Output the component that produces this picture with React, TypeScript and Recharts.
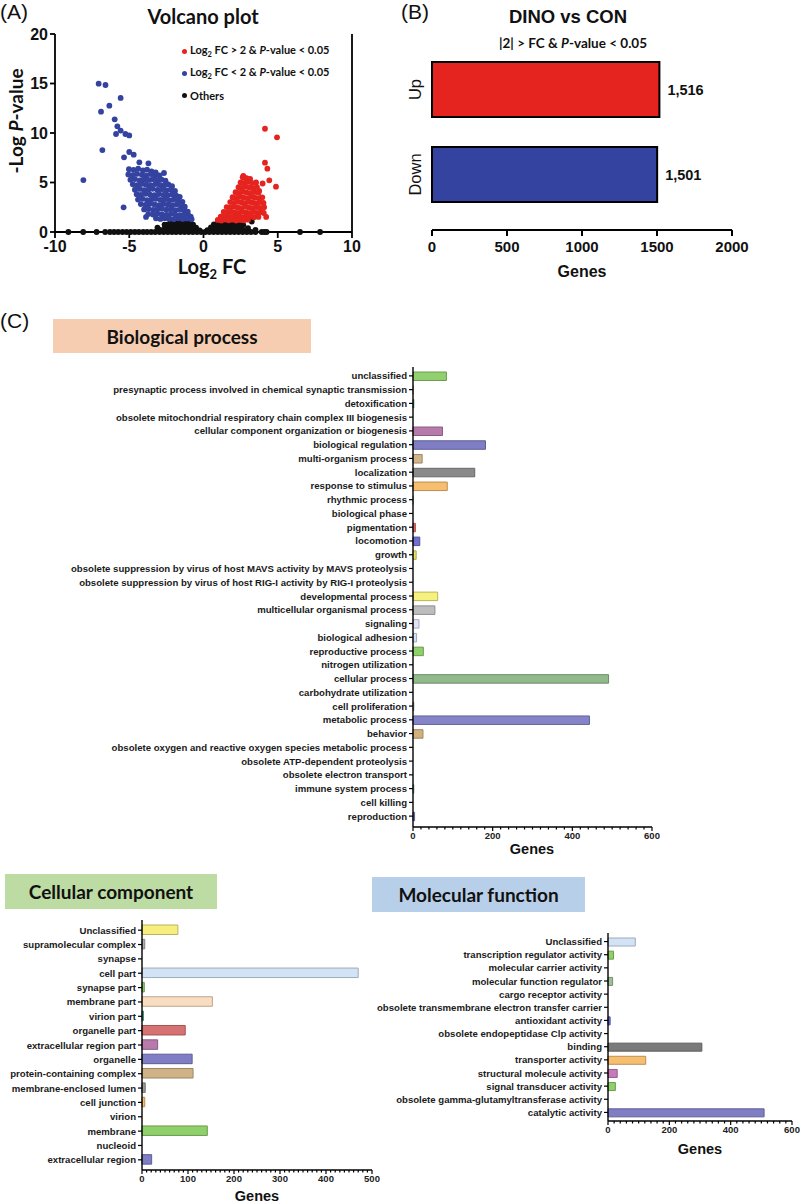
import React from 'react'
import {
  ScatterChart, Scatter, XAxis, YAxis, ReferenceLine, Legend,
  BarChart, Bar, Cell, LabelList,
} from 'recharts'

const SANS = '"Liberation Sans", Arial, sans-serif'
const CAL = 'Lato, "Open Sans", sans-serif'

// ---- (A) volcano plot, [log2 FC, -log P] ----
const VOLCANO_UP = [
  [4.14, 10.43], [4.95, 9.56], [4.14, 7.0], [4.3, 6.4], [4.43, 5.22], [4.88, 4.58], [4.22, 1.52],
  [3.98, 4.9], [3.75, 4.14], [2.68, 5.66], [3.8, 3.4],
  [2.64, 5.52], [2.9, 5.44], [3.14, 5.36],
  [2.5, 5.02], [2.75, 4.96], [3.0, 5.06], [3.28, 4.94], [3.54, 5.0],
  [2.36, 4.52], [2.6, 4.45], [2.86, 4.56], [3.1, 4.48], [3.36, 4.42], [3.6, 4.54],
  [2.16, 4.02], [2.4, 3.95], [2.66, 4.06], [2.9, 3.98], [3.16, 3.92], [3.42, 4.04], [3.7, 3.96],
  [1.96, 3.52], [2.2, 3.45], [2.46, 3.56], [2.7, 3.48], [2.96, 3.42], [3.2, 3.54], [3.46, 3.46], [3.74, 3.4], [3.96, 3.5],
  [1.8, 3.02], [2.05, 2.95], [2.3, 3.06], [2.56, 2.98], [2.8, 2.92], [3.06, 3.04], [3.3, 2.96], [3.56, 2.9], [3.8, 3.02], [4.04, 2.94],
  [1.56, 2.52], [1.8, 2.45], [2.06, 2.56], [2.3, 2.48], [2.56, 2.42], [2.8, 2.54], [3.06, 2.46], [3.3, 2.4], [3.56, 2.52], [3.8, 2.44], [4.08, 2.5],
  [1.36, 2.02], [1.6, 1.95], [1.86, 2.06], [2.1, 1.98], [2.36, 1.92], [2.6, 2.04], [2.86, 1.96], [3.1, 1.9], [3.36, 2.02], [3.6, 1.94], [3.86, 2.0], [4.06, 1.92],
  [1.16, 1.56], [1.4, 1.5], [1.66, 1.6], [1.9, 1.52], [2.16, 1.46], [2.4, 1.58], [2.66, 1.5], [2.9, 1.44], [3.16, 1.56], [3.4, 1.48], [3.7, 1.52],
  [0.96, 1.22], [1.2, 1.16], [1.46, 1.26], [1.7, 1.18], [1.96, 1.24], [2.2, 1.16], [2.46, 1.22], [2.72, 1.18], [3.0, 1.24],
]

const VOLCANO_DOWN = [
  [-7.06, 14.98], [-6.6, 14.85], [-6.34, 12.76], [-6.9, 12.15], [-5.58, 13.54], [-5.98, 11.38], [-5.8, 10.67],
  [-5.58, 10.24], [-5.89, 9.9], [-5.26, 9.9], [-5.0, 9.76], [-6.81, 8.28], [-8.09, 5.25], [-5.0, 8.08],
  [-4.7, 7.81], [-5.35, 7.54], [-5.38, 2.49], [-4.32, 7.04], [-3.71, 6.94], [-2.66, 5.96], [-3.87, 1.52],
  [-5.02, 6.35], [-4.71, 6.28], [-4.4, 6.4], [-4.08, 6.22], [-3.8, 6.3], [-3.5, 6.12], [-3.22, 6.02],
  [-5.06, 5.82], [-4.76, 5.75], [-4.47, 5.88], [-4.15, 5.78], [-3.86, 5.7], [-3.55, 5.85], [-3.26, 5.66], [-2.96, 5.72],
  [-4.92, 5.28], [-4.61, 5.35], [-4.3, 5.22], [-4.02, 5.31], [-3.7, 5.26], [-3.41, 5.34], [-3.1, 5.2], [-2.82, 5.3], [-2.56, 5.18],
  [-4.76, 4.82], [-4.47, 4.74], [-4.15, 4.86], [-3.86, 4.78], [-3.55, 4.72], [-3.24, 4.84], [-2.95, 4.76], [-2.66, 4.7], [-2.37, 4.8], [-2.12, 4.62],
  [-4.62, 4.28], [-4.3, 4.35], [-4.01, 4.22], [-3.7, 4.3], [-3.42, 4.36], [-3.1, 4.25], [-2.8, 4.32], [-2.5, 4.2], [-2.21, 4.28], [-1.92, 4.15],
  [-4.5, 3.82], [-4.22, 3.75], [-3.9, 3.86], [-3.6, 3.78], [-3.31, 3.72], [-3.01, 3.84], [-2.7, 3.76], [-2.42, 3.7], [-2.12, 3.8], [-1.83, 3.68], [-1.6, 3.55],
  [-4.41, 3.28], [-4.1, 3.35], [-3.8, 3.22], [-3.5, 3.3], [-3.2, 3.36], [-2.9, 3.25], [-2.61, 3.32], [-2.3, 3.2], [-2.02, 3.28], [-1.71, 3.18], [-1.42, 3.05],
  [-4.22, 2.82], [-3.91, 2.75], [-3.6, 2.86], [-3.3, 2.78], [-3.0, 2.72], [-2.71, 2.84], [-2.4, 2.76], [-2.1, 2.7], [-1.8, 2.8], [-1.5, 2.68], [-1.26, 2.55],
  [-4.0, 2.28], [-3.71, 2.35], [-3.4, 2.22], [-3.1, 2.3], [-2.8, 2.36], [-2.5, 2.25], [-2.2, 2.32], [-1.9, 2.2], [-1.6, 2.28], [-1.31, 2.18], [-1.06, 2.05],
  [-3.72, 1.82], [-3.4, 1.76], [-3.1, 1.86], [-2.8, 1.78], [-2.5, 1.72], [-2.2, 1.84], [-1.9, 1.76], [-1.6, 1.7], [-1.3, 1.8], [-1.02, 1.68], [-0.86, 1.55],
  [-3.2, 1.38], [-2.9, 1.32], [-2.6, 1.4], [-2.3, 1.34], [-2.0, 1.3], [-1.7, 1.38], [-1.4, 1.32], [-1.1, 1.36], [-0.8, 1.3],
]

const VOLCANO_OTHER = [
  [-9.1, 0], [-8.1, 0], [-7.2, 0], [-6.62, 0], [-6.3, 0], [-6.02, 0], [-5.74, 0], [-5.45, 0], [-5.18, 0], [-4.9, 0],
  [-4.62, 0], [-4.35, 0], [-4.06, 0], [-3.8, 0], [-3.52, 0], [-3.25, 0], [-2.96, 0], [-2.68, 0], [-2.4, 0], [-2.12, 0],
  [-1.85, 0], [-1.56, 0], [-1.28, 0], [-1.0, 0], [-0.72, 0], [-0.44, 0], [-0.16, 0], [0.12, 0], [0.4, 0], [0.68, 0],
  [0.96, 0], [1.24, 0], [1.52, 0], [1.8, 0], [2.08, 0], [2.36, 0], [2.64, 0], [2.92, 0], [3.2, 0], [3.5, 0],
  [3.92, 0], [4.1, 0], [4.25, 0], [6.5, 0], [7.85, 0],
  [-2.92, 0.22], [-2.62, 0.18], [-2.32, 0.24], [-2.02, 0.2], [-1.72, 0.16], [-1.42, 0.22], [-1.12, 0.18], [-0.82, 0.24], [-0.52, 0.2], [-0.26, 0.16],
  [0.26, 0.18], [0.52, 0.22], [0.82, 0.16], [1.12, 0.24], [1.42, 0.2], [1.72, 0.18], [2.02, 0.22], [2.32, 0.16], [2.62, 0.24], [2.92, 0.2],
  [-2.6, 0.5], [-2.3, 0.46], [-2.0, 0.54], [-1.7, 0.48], [-1.4, 0.52], [-1.1, 0.46], [-0.8, 0.5], [-0.5, 0.44],
  [0.5, 0.46], [0.8, 0.52], [1.1, 0.48], [1.4, 0.54], [1.7, 0.46], [2.0, 0.5], [2.3, 0.52],
  [-2.4, 0.78], [-2.1, 0.82], [-1.8, 0.76], [-1.5, 0.8], [-1.2, 0.84], [-0.92, 0.78], [-0.7, 0.74],
  [0.7, 0.76], [0.92, 0.82], [1.2, 0.78], [1.5, 0.84], [1.8, 0.76], [2.1, 0.8], [2.4, 0.82],
  [-2.2, 1.04], [-1.9, 1.08], [-1.6, 1.02], [-1.3, 1.06], [-1.02, 1.0], [1.0, 1.04], [1.3, 1.08], [1.6, 1.02], [1.9, 1.06], [2.2, 1.0],
  [3.25, 1.05], [2.68, 0.7], [2.46, 0.54], [3.0, 0.4], [3.5, 0.22], [-2.62, 0.75], [-3.1, 0.45],
]

const VOLCANO_X_TICKS = [-10, -5, 0, 5, 10]
const VOLCANO_Y_TICKS = [0, 5, 10, 15, 20]

// ---- (B) DEG counts ----
const DEG_GROUPS = ['Up', 'Down']
const DEG_COUNTS = [1516, 1501]
const DEG_TICKS = [0, 500, 1000, 1500, 2000]

// ---- (C) GO categories ----
const BP_TERMS = [
  'unclassified',
  'presynaptic process involved in chemical synaptic transmission',
  'detoxification',
  'obsolete mitochondrial respiratory chain complex III biogenesis',
  'cellular component organization or biogenesis',
  'biological regulation',
  'multi-organism process',
  'localization',
  'response to stimulus',
  'rhythmic process',
  'biological phase',
  'pigmentation',
  'locomotion',
  'growth',
  'obsolete suppression by virus of host MAVS activity by MAVS proteolysis',
  'obsolete suppression by virus of host RIG-I activity by RIG-I proteolysis',
  'developmental process',
  'multicellular organismal process',
  'signaling',
  'biological adhesion',
  'reproductive process',
  'nitrogen utilization',
  'cellular process',
  'carbohydrate utilization',
  'cell proliferation',
  'metabolic process',
  'behavior',
  'obsolete oxygen and reactive oxygen species metabolic process',
  'obsolete ATP-dependent proteolysis',
  'obsolete electron transport',
  'immune system process',
  'cell killing',
  'reproduction',
]
const BP_GENES = [84, 1, 2, 0, 74, 182, 23, 155, 86, 1, 0, 6, 17, 8, 0, 0, 62, 55, 15, 9, 26, 0, 491, 0, 2, 443, 25, 0, 0, 0, 2, 0, 4]
const BP_COLORS = [
  '#92cf6e', '#f4e3b0', '#5fa89a', '#cccccc', '#b77aaa', '#7f7dc4', '#d2b48a', '#8a8a8a', '#f6be6e', '#e6dcef',
  '#cccccc', '#e06a6a', '#6f6fcf', '#e3e36a', '#cccccc', '#cccccc', '#f6f07c', '#bdbdbd', '#e4e2f6', '#d3e3f6',
  '#8fd06a', '#cccccc', '#92b98b', '#cccccc', '#b8b8b8', '#8584c8', '#d2b07e', '#cccccc', '#cccccc', '#cccccc',
  '#9bc49a', '#cccccc', '#7f7dc4',
]
const BP_TICKS = [0, 20, 40, 60, 80, 100, 120, 140, 160, 180, 200, 220, 240, 260, 280, 300, 320, 340, 360, 380, 400, 420, 440, 460, 480, 500, 520, 540, 560, 580, 600]
const BP_MAJOR = [0, 200, 400, 600]

const CC_TERMS = [
  'Unclassified', 'supramolecular complex', 'synapse', 'cell part', 'synapse part', 'membrane part', 'virion part',
  'organelle part', 'extracellular region part', 'organelle', 'protein-containing complex', 'membrane-enclosed lumen',
  'cell junction', 'virion', 'membrane', 'nucleoid', 'extracellular region',
]
const CC_GENES = [78, 6, 0, 470, 5, 153, 3, 94, 34, 109, 111, 7, 6, 0, 142, 0, 21]
const CC_COLORS = [
  '#f6ef7e', '#b0b0b0', '#cccccc', '#d3e3f6', '#8fd06a', '#f9ddc0', '#5fa89a', '#d77272', '#b77aaa',
  '#7f7dc4', '#cfb387', '#999999', '#f6be6e', '#cccccc', '#8fd06a', '#cccccc', '#7f7dc4',
]
const CC_TICKS = [0, 10, 20, 30, 40, 50, 60, 70, 80, 90, 100, 110, 120, 130, 140, 150, 160, 170, 180, 190, 200, 210, 220, 230, 240, 250, 260, 270, 280, 290, 300, 310, 320, 330, 340, 350, 360, 370, 380, 390, 400, 410, 420, 430, 440, 450, 460, 470, 480, 490, 500]
const CC_MAJOR = [0, 100, 200, 300, 400, 500]

const MF_TERMS = [
  'Unclassified', 'transcription regulator activity', 'molecular carrier activity', 'molecular function regulator',
  'cargo receptor activity', 'obsolete transmembrane electron transfer carrier', 'antioxidant activity',
  'obsolete endopeptidase Clp activity', 'binding', 'transporter activity', 'structural molecule activity',
  'signal transducer activity', 'obsolete gamma-glutamyltransferase activity', 'catalytic activity',
]
const MF_GENES = [89, 18, 0, 15, 0, 0, 7, 0, 306, 123, 30, 24, 0, 509]
const MF_COLORS = [
  '#d3e3f6', '#8fd06a', '#cccccc', '#9fbf98', '#cccccc', '#cccccc', '#6f6fcf',
  '#cccccc', '#7a7a7a', '#f6be6e', '#c77ab8', '#8fd06a', '#cccccc', '#7f7dc4',
]
const MF_TICKS = BP_TICKS
const MF_MAJOR = BP_MAJOR

const RED = '#e5231f'
const BLUE = '#3442a0'
const BLACK = '#111111'

function shade(hex: string, k = 0.75) {
  const n = parseInt(hex.slice(1), 16)
  const r = Math.round(((n >> 16) & 255) * k)
  const g = Math.round(((n >> 8) & 255) * k)
  const b = Math.round((n & 255) * k)
  return `rgb(${r},${g},${b})`
}

const toPts = (arr: number[][]) => arr.map(([x, y]) => ({ x, y }))

function Txt({ x, y, size, children, weight = 'bold', font = SANS, left = false }: any) {
  return (
    <div
      style={{
        position: 'absolute', left: x, top: y,
        transform: left ? 'translate(0,-50%)' : 'translate(-50%,-50%)',
        fontSize: size, fontWeight: weight, fontFamily: font,
        whiteSpace: 'nowrap', lineHeight: 1, color: '#111',
      }}
    >
      {children}
    </div>
  )
}

function TitleBox({ x, y, w, h, bg, children }: any) {
  return (
    <div
      style={{
        position: 'absolute', left: x, top: y, width: w, height: h, background: bg,
        display: 'flex', alignItems: 'center', justifyContent: 'center',
        fontFamily: CAL, fontWeight: 'bold', fontSize: 19, color: '#111',
      }}
    >
      {children}
    </div>
  )
}

const axisStroke = { stroke: '#000', strokeWidth: 1.8 }

function VolcanoLegend() {
  const rows = [
    { c: RED, t: <>Log<sub style={{ fontSize: 7.5 }}>2</sub> FC &gt; 2 &amp; <i>P</i>-value &lt; 0.05</> },
    { c: BLUE, t: <>Log<sub style={{ fontSize: 7.5 }}>2</sub> FC &lt; 2 &amp; <i>P</i>-value &lt; 0.05</> },
    { c: BLACK, t: <>Others</> },
  ]
  return (
    <div style={{ fontFamily: CAL, fontWeight: 'bold', fontSize: 11, color: '#111' }}>
      {rows.map((r, i) => (
        <div key={i} style={{ height: 22, display: 'flex', alignItems: 'center' }}>
          <span style={{ width: 5, height: 5, borderRadius: 3, background: r.c, marginRight: 3 }} />
          <span>{r.t}</span>
        </div>
      ))}
    </div>
  )
}

function Volcano() {
  const dot = (fill: string) => (p: any) => <circle cx={p.cx} cy={p.cy} r={2.9} fill={fill} />
  return (
    <ScatterChart width={380} height={280} margin={{ top: 34, right: 28, bottom: 0, left: 10 }}>
      <XAxis
        type="number" dataKey="x" domain={[-10, 10]} ticks={VOLCANO_X_TICKS} interval={0} height={48}
        axisLine={axisStroke} tickLine={axisStroke} tickSize={6} tickMargin={3}
        tick={{ fontSize: 16, fontWeight: 'bold', fill: '#111', fontFamily: SANS }}
      />
      <YAxis
        type="number" dataKey="y" domain={[0, 20]} ticks={VOLCANO_Y_TICKS} interval={0} width={45}
        axisLine={axisStroke} tickLine={axisStroke} tickSize={5} tickMargin={2}
        tick={{ fontSize: 16, fontWeight: 'bold', fill: '#111', fontFamily: SANS }}
      />
      <ReferenceLine x={10} stroke="#000" strokeWidth={1.8} />
      <Scatter data={toPts(VOLCANO_OTHER)} fill={BLACK} shape={dot(BLACK)} isAnimationActive={false} />
      <Scatter data={toPts(VOLCANO_DOWN)} fill={BLUE} shape={dot(BLUE)} isAnimationActive={false} />
      <Scatter data={toPts(VOLCANO_UP)} fill={RED} shape={dot(RED)} isAnimationActive={false} />
      <Legend
        layout="horizontal" verticalAlign="middle" align="center"
        wrapperStyle={{ top: 40, left: 182, width: 190 }}
        content={() => <VolcanoLegend />}
      />
    </ScatterChart>
  )
}

function DegBars() {
  const data = DEG_GROUPS.map((group, i) => ({ group, count: DEG_COUNTS[i] }))
  const colors = [RED, BLUE]
  return (
    <BarChart layout="vertical" width={420} height={290} data={data} margin={{ top: 47, right: 68, bottom: 0, left: 0 }}>
      <XAxis
        type="number" domain={[0, 2000]} ticks={DEG_TICKS} interval={0} height={60}
        axisLine={{ stroke: '#000', strokeWidth: 2 }} tickLine={{ stroke: '#000', strokeWidth: 2 }}
        tickSize={6} tickMargin={5}
        tick={{ fontSize: 15, fontWeight: 'bold', fill: '#111', fontFamily: SANS }}
      />
      <YAxis
        type="category" dataKey="group" width={52} axisLine={false} tickLine={false} interval={0}
        padding={{ top: 0, bottom: 13 }}
        tick={(p: any) => (
          <text
            x={35} y={p.y} transform={`rotate(-90 35 ${p.y})`} textAnchor="middle" dominantBaseline="central"
            fontSize={16.5} fontFamily={SANS} fill="#111"
          >
            {p.payload.value}
          </text>
        )}
      />
      <Bar dataKey="count" barSize={55} stroke="#000" strokeWidth={2} isAnimationActive={false}>
        {data.map((d, i) => <Cell key={d.group} fill={colors[i]} />)}
        <LabelList
          dataKey="count" position="right" offset={8}
          formatter={(v: any) => Number(v).toLocaleString('en-US')}
          style={{ fontSize: 14.5, fontWeight: 'bold', fill: '#111', fontFamily: SANS }}
        />
      </Bar>
    </BarChart>
  )
}

function GeneTick({ x, y, payload, majors }: any) {
  const major = majors.includes(payload.value)
  return (
    <g>
      <line x1={x} x2={x} y1={y} y2={y + (major ? 4 : 2.5)} stroke="#000" strokeWidth={1.2} />
      {major && (
        <text x={x} y={y + 12} textAnchor="middle" fontSize={9.5} fontWeight="bold" fill="#222" fontFamily={SANS}>
          {payload.value}
        </text>
      )}
    </g>
  )
}

function GoChart({ terms, genes, colors, width, height, mTop, mRight, yWidth, xHeight, max, ticks, majors, labelSize, barSize, pad }: any) {
  const data = terms.map((term: string, i: number) => ({ term, genes: genes[i] }))
  return (
    <BarChart layout="vertical" width={width} height={height} data={data} margin={{ top: mTop, right: mRight, bottom: 0, left: 0 }}>
      <XAxis
        type="number" domain={[0, max]} ticks={ticks} interval={0} height={xHeight}
        axisLine={{ stroke: '#000', strokeWidth: 1.4 }} tickLine={false} tickSize={0} tickMargin={0}
        tick={(p: any) => <GeneTick {...p} majors={majors} />}
      />
      <YAxis
        type="category" dataKey="term" width={yWidth} interval={0} padding={pad}
        axisLine={{ stroke: '#000', strokeWidth: 1.4 }} tickLine={{ stroke: '#000', strokeWidth: 1.2 }}
        tickSize={4} tickMargin={2}
        tick={(p: any) => (
          <text
            x={p.x} y={p.y} textAnchor="end" dominantBaseline="central" fontSize={labelSize}
            fontWeight="bold" fill="#1a1a1a" fontFamily={SANS}
          >
            {p.payload.value}
          </text>
        )}
      />
      <Bar dataKey="genes" barSize={barSize} strokeWidth={1} isAnimationActive={false}>
        {data.map((d: any, i: number) => <Cell key={d.term} fill={colors[i]} stroke={shade(colors[i])} />)}
      </Bar>
    </BarChart>
  )
}

export default function App() {
  return (
    <div style={{ position: 'absolute', left: 0, top: 0, width: 800, height: 1204, background: '#fff', overflow: 'hidden' }}>
      {/* (A) */}
      <div style={{ position: 'absolute', left: 0, top: 0 }}>
        <Volcano />
      </div>
      <Txt x={0} y={11} size={21} weight="normal" left>(A)</Txt>
      <Txt x={203} y={16} size={20} font={CAL}>Volcano plot</Txt>
      <div
        style={{
          position: 'absolute', left: 15, top: 121, transform: 'translate(-50%,-50%) rotate(-90deg)',
          fontFamily: CAL, fontWeight: 'bold', fontSize: 19, whiteSpace: 'nowrap', lineHeight: 1, color: '#111',
        }}
      >
        -Log <i>P</i>-value
      </div>
      <Txt x={212} y={268} size={20} font={CAL}>
        Log<sub style={{ fontSize: 13 }}>2</sub> FC
      </Txt>

      {/* (B) */}
      <div style={{ position: 'absolute', left: 380, top: 0 }}>
        <DegBars />
      </div>
      <Txt x={401} y={11} size={21} weight="normal" left>(B)</Txt>
      <Txt x={568} y={17} size={18.5}>DINO vs CON</Txt>
      <Txt x={573} y={44} size={13.5} font={CAL}>|2| &gt; FC &amp; <i>P</i>-value &lt; 0.05</Txt>
      <Txt x={582} y={272} size={16}>Genes</Txt>

      {/* (C) */}
      <Txt x={0} y={320} size={21} weight="normal" left>(C)</Txt>
      <TitleBox x={53} y={319} w={258} h={34} bg="#f7cdb2">Biological process</TitleBox>
      <div style={{ position: 'absolute', left: 0, top: 360 }}>
        <GoChart
          terms={BP_TERMS} genes={BP_GENES} colors={BP_COLORS} width={660} height={500} mTop={7} mRight={8}
          yWidth={413} xHeight={33} max={600} ticks={BP_TICKS} majors={BP_MAJOR} labelSize={9.6} barSize={8.5}
          pad={{ top: 2, bottom: 4 }}
        />
      </div>
      <Txt x={532} y={849} size={14.5}>Genes</Txt>

      <TitleBox x={5} y={874} w={212} h={35} bg="#bddca3">Cellular component</TitleBox>
      <div style={{ position: 'absolute', left: 0, top: 910 }}>
        <GoChart
          terms={CC_TERMS} genes={CC_GENES} colors={CC_COLORS} width={380} height={294} mTop={10} mRight={8}
          yWidth={142} xHeight={34} max={500} ticks={CC_TICKS} majors={CC_MAJOR} labelSize={9.6} barSize={9.5}
          pad={{ top: 3, bottom: 3 }}
        />
      </div>
      <Txt x={257} y={1196} size={14.5}>Genes</Txt>

      <TitleBox x={372} y={877} w={213} h={35} bg="#b8cfea">Molecular function</TitleBox>
      <div style={{ position: 'absolute', left: 360, top: 920 }}>
        <GoChart
          terms={MF_TERMS} genes={MF_GENES} colors={MF_COLORS} width={440} height={240} mTop={13} mRight={8}
          yWidth={248} xHeight={39} max={600} ticks={MF_TICKS} majors={MF_MAJOR} labelSize={9.6} barSize={8}
          pad={{ top: 2, bottom: 2 }}
        />
      </div>
      <Txt x={700} y={1149} size={14.5}>Genes</Txt>
    </div>
  )
}
